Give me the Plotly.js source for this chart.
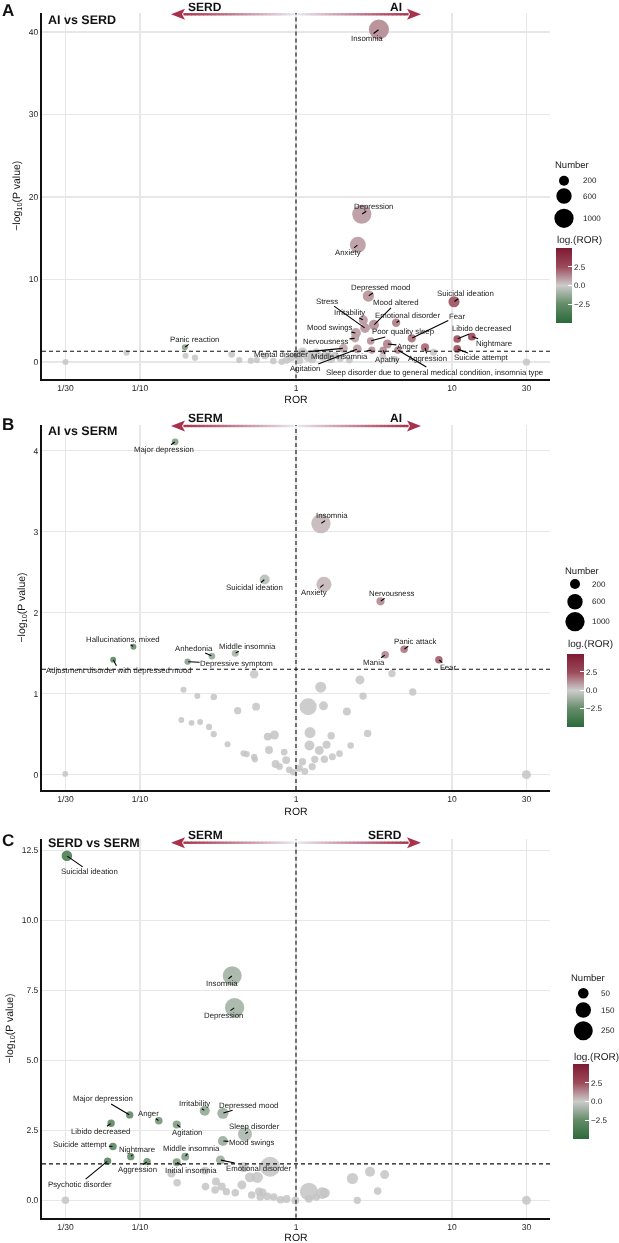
<!DOCTYPE html>
<html>
<head>
<meta charset="utf-8">
<script src="https://cdn.plot.ly/plotly-3.0.1.min.js"></script>
<style>
  html, body { margin: 0; padding: 0; background: #fff; }
  #chart { width: 619px; height: 1243px; will-change: transform; }
  #chart svg text { text-rendering: geometricPrecision; }
</style>
</head>
<body>
<div id="chart"></div>
<script>
// ---------------- data ----------------
// x: reporting odds ratio (ROR), y: -log10(P value), n: number of reports

// A: AI vs SERD — significant terms
const aiSerdLabel = ['Insomnia', 'Depression', 'Anxiety', 'Depressed mood', 'Suicidal ideation', 'Irritability',
  'Stress', 'Mood altered', 'Emotional disorder', 'Mood swings', 'Nervousness', 'Poor quality sleep', 'Fear',
  'Anger', 'Mental disorder', 'Agitation', 'Middle insomnia', 'Apathy',
  'Sleep disorder due to general medical condition, insomnia type', 'Aggression', 'Libido decreased',
  'Nightmare', 'Suicide attempt', 'Panic reaction'];
const aiSerdRor = [3.40, 2.64, 2.49, 2.91, 10.3, 2.70, 2.77, 3.16, 4.38, 2.42, 2.39, 3.01, 5.52,
  3.85, 2.01, 2.47, 3.06, 3.62, 4.49, 6.71, 10.8, 13.4, 10.8, 0.194];
const aiSerdLogP = [40.3, 17.9, 14.2, 8.0, 7.3, 5.1, 4.1, 4.5, 4.76, 3.5, 2.87, 2.55, 2.87,
  2.18, 1.66, 1.58, 1.45, 1.45, 1.45, 1.78, 2.79, 3.07, 1.58, 1.78];
const aiSerdN = [1100, 980, 660, 290, 270, 150, 180, 200, 110, 200, 100, 70, 100,
  140, 140, 140, 60, 60, 60, 100, 80, 80, 80, 15];
// A: non-significant terms
const aiSerdGreyRor = [0.0333, 0.082, 0.196, 0.225, 0.387, 0.433, 0.513, 0.56, 0.633, 0.715, 0.81, 0.87,
  0.93, 1.02, 1.10, 1.20, 1.05, 1.27, 1.35, 1.48, 1.58, 1.68, 1.78, 1.92, 2.2, 3.6, 4.3, 7.6, 30];
const aiSerdGreyLogP = [0.0, 1.13, 0.76, 0.52, 0.93, 0.24, 0.16, 0.24, 0.73, 0.12, 0.04, 0.24,
  0.55, 0.85, 1.15, 0.70, 0.20, 0.40, 1.10, 0.60, 0.95, 0.30, 0.80, 0.45, 0.25, 0.75, 0.35, 1.17, 0.0];
const aiSerdGreyN = [12, 12, 12, 20, 40, 20, 20, 20, 40, 30, 30, 60,
  90, 150, 200, 250, 90, 150, 150, 100, 150, 80, 60, 60, 40, 40, 30, 50, 60];

// B: AI vs SERM — significant terms
const aiSermLabel = ['Major depression', 'Insomnia', 'Suicidal ideation', 'Anxiety', 'Nervousness',
  'Hallucinations, mixed', 'Adjustment disorder with depressed mood', 'Anhedonia', 'Middle insomnia',
  'Depressive symptom', 'Panic attack', 'Mania', 'Fear'];
const aiSermRor = [0.168, 1.445, 0.630, 1.51, 3.48, 0.0908, 0.0673, 0.289, 0.408, 0.202, 4.93, 3.73, 8.24];
const aiSermLogP = [4.11, 3.10, 2.41, 2.35, 2.14, 1.58, 1.42, 1.465, 1.50, 1.395, 1.548, 1.48, 1.42];
const aiSermN = [40, 1000, 200, 570, 100, 8, 8, 40, 50, 20, 70, 70, 70];
// B: non-significant terms
const aiSermGreyRor = [0.0332, 0.539, 0.190, 0.233, 0.297, 0.423, 0.555, 0.184, 0.214, 0.243, 0.277, 0.297,
  0.364, 0.461, 0.483, 0.539, 0.545, 0.659, 0.727, 0.671, 0.740, 0.865, 0.784, 0.906, 0.96, 1.05, 1.10,
  1.14, 1.27, 1.32, 1.197, 1.44, 1.50, 1.23, 1.22, 1.41, 1.57, 1.68, 1.52, 1.71, 1.90, 2.24, 2.12, 2.57,
  2.69, 2.88, 4.12, 5.60, 30, 0.84];
const aiSermGreyLogP = [0.01, 1.24, 1.05, 0.97, 0.96, 0.79, 0.84, 0.675, 0.64, 0.65, 0.59, 0.50,
  0.375, 0.264, 0.255, 0.22, 0.19, 0.47, 0.49, 0.305, 0.132, 0.18, 0.10, 0.06, 0.03, 0.08, 0.16,
  0.04, 0.10, 0.19, 0.84, 1.08, 0.85, 0.52, 0.36, 0.30, 0.37, 0.48, 0.19, 0.22, 0.26, 0.36, 0.78, 1.17,
  0.97, 0.51, 1.25, 1.02, 0.0, 0.28];
const aiSermGreyN = [5, 120, 12, 12, 30, 60, 90, 10, 10, 12, 20, 20,
  12, 20, 20, 25, 20, 90, 140, 90, 90, 90, 40, 40, 30, 60, 60,
  40, 60, 60, 760, 260, 144, 260, 200, 144, 94, 67, 67, 50, 34, 34, 94, 144,
  67, 67, 67, 67, 144, 40];

// C: SERD vs SERM — significant terms
const serdSermLabel = ['Suicidal ideation', 'Insomnia', 'Depression', 'Major depression', 'Anger',
  'Libido decreased', 'Agitation', 'Irritability', 'Depressed mood', 'Sleep disorder', 'Mood swings',
  'Suicide attempt', 'Nightmare', 'Middle insomnia', 'Psychotic disorder', 'Aggression',
  'Initial insomnia', 'Emotional disorder'];
const serdSermRor = [0.0340, 0.390, 0.404, 0.0859, 0.132, 0.0653, 0.172, 0.260, 0.340, 0.471, 0.340,
  0.0671, 0.0873, 0.195, 0.0620, 0.111, 0.172, 0.328];
const serdSermLogP = [12.30, 8.02, 6.88, 3.05, 2.84, 2.75, 2.71, 3.20, 3.11, 2.37, 2.12,
  1.92, 1.56, 1.56, 1.40, 1.38, 1.36, 1.44];
const serdSermN = [50, 250, 260, 4, 6, 4, 12, 40, 60, 120, 40, 6, 3, 10, 3, 3, 10, 25];
// C: non-significant terms
const serdSermGreyRor = [0.0333, 0.682, 0.463, 0.261, 0.159, 0.173, 0.507, 0.565, 0.263, 0.307, 0.334,
  0.303, 0.358, 0.408, 0.45, 0.52, 0.58, 0.61, 0.59, 0.655, 0.72, 0.796, 0.87, 0.99, 1.21, 1.21, 1.35,
  1.47, 1.53, 2.30, 2.47, 2.98, 3.34, 3.70, 30];
const serdSermGreyLogP = [0.0, 1.20, 1.18, 1.06, 0.96, 0.63, 0.82, 0.82, 0.49, 0.67, 0.49,
  0.37, 0.31, 0.27, 0.55, 0.19, 0.31, 0.28, 0.12, 0.14, 0.12, 0.02, 0.05, 0.0, 0.31, 0.05, 0.12,
  0.26, 0.26, 0.78, 0.0, 1.02, 0.33, 0.92, 0.0];
const serdSermGreyN = [5, 280, 40, 10, 12, 5, 40, 60, 6, 10, 12,
  6, 3, 6, 25, 6, 12, 10, 6, 6, 6, 6, 10, 10, 220, 6, 6,
  70, 40, 60, 3, 40, 6, 25, 25];

// axis ticks and legend breaks
const rorTickVals = [1 / 30, 1 / 10, 1, 10, 30];
const rorTickText = ['1/30', '1/10', '1', '10', '30'];
const sizeBreaksAB = [200, 600, 1000];
const sizeBreaksC = [50, 150, 250];
const colorTickVals = [-2.5, 0, 2.5];
const colorTickText = ['\u22122.5', '0.0', '2.5'];
const pThreshold = 0.05;

// ---------------- geometry & styling ----------------
const W = 619, H = 1243;
const px = v => v / W;          // horizontal pixel -> paper
const py = v => 1 - v / H;      // vertical pixel -> paper
const FONT = "Arial, 'Liberation Sans', Helvetica, sans-serif";
const XDOM = [px(42), px(550)];
const XRANGE = [-1.628, 1.628];
const GRID = '#e7e7e7';
const GREY = 'rgb(196,196,196)';
const COLORSCALE = [[0, '#2a6a3a'], [0.25, '#648c68'], [0.5, '#cccccc'], [0.75, '#9c4a5a'], [1, '#7d1a33']];
const ARROW_LIGHT = [233, 233, 243];
const ARROW_DARK = [168, 50, 76];

// bubble area grows linearly with the count (ggplot-like size scale)
const sizeScale = (a, b) => n => 2 * Math.sqrt(a + b * n);
const sizeAB = sizeScale(8, 0.085);
const sizeC = sizeScale(12.5, 0.31);

// label offsets (pixels from the point to the label centre)
const aiSerdOffsets = [[-12, 9], [12, -8], [-10, 8], [12, -8], [11, -8], [-14, -7], [-38, -27], [22, -22],
  [11, -7], [-26, -6], [-29, 3], [33, -9], [45, -22], [20, 2], [-62, 6], [-52, 20], [-32, 6], [4, 9],
  [37, 22], [3, 11], [24, -10], [22, 7], [24, 9], [10, -8]];
const aiSermOffsets = [[-11, 8], [11, -8], [-10, 8], [-10, 8], [11, -8], [-10, -7], [6, 11], [-18, -8],
  [12, -7], [49, 2], [11, -8], [-11, 8], [9, 8]];
const serdSermOffsets = [[23, 16], [-10, 8], [-11, 8], [-27, -16], [-10, -7], [-11, 8], [10, 8], [-10, -7],
  [26, -8], [10, -7], [29, 2], [-32, -2], [6, -7], [6, -8], [-28, 23], [-10, 8], [14, 8], [38, 8]];

const panels = [
  {
    letter: 'A', title: 'AI vs SERD', left: 'SERD', right: 'AI',
    label: aiSerdLabel, ror: aiSerdRor, logp: aiSerdLogP, n: aiSerdN, offsets: aiSerdOffsets,
    gRor: aiSerdGreyRor, gLogp: aiSerdGreyLogP, gN: aiSerdGreyN,
    size: sizeAB, breaks: sizeBreaksAB,
    top: 13, bottom: 378.5, yRange: [-2.0, 42.3], yTicks: [0, 10, 20, 30, 40], yTickText: ['0', '10', '20', '30', '40'],
    arrowY: 14.3, arrowLabelY: 6.5, titleY: 19.5, letterY: 10,
    num: { tx: 553, ty: 165, cx: 564, cy: [180.7, 196, 218.3], lx: 581 },
    cbar: { x0: 556, x1: 572, y0: 248, y1: 323, ty: 240 }
  },
  {
    letter: 'B', title: 'AI vs SERM', left: 'SERM', right: 'AI',
    label: aiSermLabel, ror: aiSermRor, logp: aiSermLogP, n: aiSermN, offsets: aiSermOffsets,
    gRor: aiSermGreyRor, gLogp: aiSermGreyLogP, gN: aiSermGreyN,
    size: sizeAB, breaks: sizeBreaksAB,
    top: 425, bottom: 790, yRange: [-0.189, 4.317], yTicks: [0, 1, 2, 3, 4], yTickText: ['0', '1', '2', '3', '4'],
    arrowY: 426, arrowLabelY: 418, titleY: 431, letterY: 425,
    num: { tx: 562.7, ty: 570, cx: 575, cy: [584, 601.7, 621.7], lx: 590 },
    cbar: { x0: 566.7, x1: 583.3, y0: 653.3, y1: 726.7, ty: 643.3 }
  },
  {
    letter: 'C', title: 'SERD vs SERM', left: 'SERM', right: 'SERD',
    label: serdSermLabel, ror: serdSermRor, logp: serdSermLogP, n: serdSermN, offsets: serdSermOffsets,
    gRor: serdSermGreyRor, gLogp: serdSermGreyLogP, gN: serdSermGreyN,
    size: sizeC, breaks: sizeBreaksC,
    top: 839.3, bottom: 1217.7, yRange: [-0.62, 12.89], yTicks: [0, 2.5, 5, 7.5, 10, 12.5],
    yTickText: ['0.0', '2.5', '5.0', '7.5', '10.0', '12.5'],
    arrowY: 842.7, arrowLabelY: 835, titleY: 843, letterY: 840,
    num: { tx: 569.3, ty: 977.3, cx: 583.3, cy: [993.3, 1010, 1030.7], lx: 599.3 },
    cbar: { x0: 573.3, x1: 589, y0: 1064, y1: 1139.3, ty: 1056 }
  }
];

const mix = (a, b, t) => `rgb(${a.map((v, i) => Math.round(v + (b[i] - v) * t)).join(',')})`;

// two-way gradient arrow above each panel
function arrowShapes(cy) {
  const out = [];
  const cx = 296, inner = 2, outer = 112, headLen = 13, headHalf = 5.5, steps = 28;
  [-1, 1].forEach(dir => {
    for (let i = 0; i < steps; i++) {
      const t0 = i / steps, t1 = (i + 1) / steps;
      out.push({
        type: 'line', xref: 'paper', yref: 'paper', layer: 'above',
        x0: px(cx + dir * (inner + (outer - inner) * t0)),
        x1: px(cx + dir * (inner + (outer - inner) * t1 + 0.6)),
        y0: py(cy), y1: py(cy),
        line: { color: mix(ARROW_LIGHT, ARROW_DARK, Math.pow((t0 + t1) / 2, 0.9)), width: 2.4 }
      });
    }
    const base = cx + dir * outer, tip = cx + dir * (outer + headLen);
    out.push({
      type: 'path', xref: 'paper', yref: 'paper', layer: 'above',
      path: `M ${px(tip)} ${py(cy)} L ${px(base - dir * 1)} ${py(cy - headHalf)} L ${px(base + dir * 2)} ${py(cy)} L ${px(base - dir * 1)} ${py(cy + headHalf)} Z`,
      fillcolor: mix(ARROW_DARK, ARROW_DARK, 0), line: { width: 0 }
    });
  });
  return out;
}

const traces = [];
const layout = {
  width: W, height: H,
  margin: { l: 0, r: 0, t: 0, b: 0 },
  paper_bgcolor: '#ffffff', plot_bgcolor: '#ffffff',
  showlegend: false,
  font: { family: FONT, color: '#1a1a1a' },
  shapes: [], annotations: []
};

const threshold = -Math.log10(pThreshold);

panels.forEach((p, i) => {
  const k = i === 0 ? '' : String(i + 1);
  const xr = 'x' + k, yr = 'y' + k;

  layout['xaxis' + k] = {
    type: 'log', domain: XDOM, range: XRANGE, anchor: yr,
    tickvals: rorTickVals, ticktext: rorTickText,
    showgrid: true, gridcolor: GRID, gridwidth: 1.2, zeroline: false,
    showline: true, linecolor: '#111', linewidth: 2, ticks: '',
    tickfont: { size: 8.5, color: '#222' },
    title: { text: 'ROR', font: { size: 10.5, color: '#111' }, standoff: 4 },
    automargin: false, fixedrange: true
  };
  layout['yaxis' + k] = {
    domain: [py(p.bottom), py(p.top)], range: p.yRange, anchor: xr,
    tickvals: p.yTicks, ticktext: p.yTickText,
    showgrid: true, gridcolor: GRID, gridwidth: 1.2, zeroline: false,
    showline: true, linecolor: '#111', linewidth: 2, ticks: '',
    tickfont: { size: 8.5, color: '#222' },
    title: { text: '\u2212log<sub>10</sub>(P value)', font: { size: 10.5, color: '#111' }, standoff: 6 },
    automargin: false, fixedrange: true
  };

  // non-significant terms
  traces.push({
    type: 'scatter', mode: 'markers', xaxis: xr, yaxis: yr,
    x: p.gRor, y: p.gLogp, hoverinfo: 'skip',
    marker: { size: p.gN.map(p.size), color: GREY, opacity: 0.85, line: { width: 0 } }
  });

  // significant terms coloured by natural log of ROR
  const cb = p.cbar;
  traces.push({
    type: 'scatter', mode: 'markers', xaxis: xr, yaxis: yr,
    x: p.ror, y: p.logp, text: p.label, hoverinfo: 'text',
    marker: {
      size: p.n.map(p.size), color: p.ror.map(Math.log), opacity: 0.92,
      colorscale: COLORSCALE, cmin: -5, cmax: 5, line: { width: 0 },
      showscale: true,
      colorbar: {
        x: px(cb.x0), xanchor: 'left', xpad: 0, ypad: 0,
        y: py((cb.y0 + cb.y1) / 2), yanchor: 'middle',
        len: cb.y1 - cb.y0, lenmode: 'pixels',
        thickness: cb.x1 - cb.x0, thicknessmode: 'pixels',
        outlinewidth: 0, tickvals: colorTickVals, ticktext: colorTickText,
        ticks: 'inside', ticklen: 4, tickwidth: 1, tickcolor: '#ffffff',
        tickfont: { size: 8, color: '#222' }
      }
    }
  });

  // reference lines: ROR = 1 and P = 0.05
  traces.push({
    type: 'scatter', mode: 'lines', xaxis: xr, yaxis: yr, hoverinfo: 'skip',
    x: [1, 1], y: p.yRange, line: { color: '#111', width: 1.1, dash: '4px,3px' }
  });
  traces.push({
    type: 'scatter', mode: 'lines', xaxis: xr, yaxis: yr, hoverinfo: 'skip',
    x: XRANGE.map(v => Math.pow(10, v)), y: [threshold, threshold],
    line: { color: '#111', width: 1.1, dash: '4px,3px' }
  });

  // term labels with leader lines
  p.label.forEach((lab, j) => {
    layout.annotations.push({
      xref: xr, yref: yr, x: Math.log10(p.ror[j]), y: p.logp[j],
      text: lab, showarrow: true, arrowhead: 0, arrowwidth: 1.1, arrowcolor: '#000',
      ax: p.offsets[j][0], ay: p.offsets[j][1], standoff: 0.5,
      font: { size: 7.8, color: '#1a1a1a' }, borderpad: 0
    });
  });

  // panel letter and comparison title
  layout.annotations.push({
    xref: 'paper', yref: 'paper', x: px(8), y: py(p.letterY), xanchor: 'center', yanchor: 'middle',
    text: '<b>' + p.letter + '</b>', showarrow: false, font: { size: 17, color: '#111' }
  });
  layout.annotations.push({
    xref: 'paper', yref: 'paper', x: px(46), y: py(p.titleY), xanchor: 'left', yanchor: 'middle',
    text: '<b>' + p.title + '</b>', showarrow: false, font: { size: 12.5, color: '#111' }
  });

  // direction arrows
  layout.shapes.push(...arrowShapes(p.arrowY));
  layout.annotations.push({
    xref: 'paper', yref: 'paper', x: px(186), y: py(p.arrowLabelY), xanchor: 'left', yanchor: 'middle',
    text: '<b>' + p.left + '</b>', showarrow: false, font: { size: 12, color: '#111' }
  });
  layout.annotations.push({
    xref: 'paper', yref: 'paper', x: px(404), y: py(p.arrowLabelY), xanchor: 'right', yanchor: 'middle',
    text: '<b>' + p.right + '</b>', showarrow: false, font: { size: 12, color: '#111' }
  });

  // size legend
  const nm = p.num;
  layout.annotations.push({
    xref: 'paper', yref: 'paper', x: px(nm.tx), y: py(nm.ty), xanchor: 'left', yanchor: 'middle',
    text: 'Number', showarrow: false, font: { size: 9.5, color: '#1a1a1a' }
  });
  p.breaks.forEach((b, j) => {
    const r = p.size(b) / 2;
    layout.shapes.push({
      type: 'circle', xref: 'paper', yref: 'paper', xsizemode: 'pixel', ysizemode: 'pixel',
      xanchor: px(nm.cx), yanchor: py(nm.cy[j]), x0: -r, x1: r, y0: -r, y1: r,
      fillcolor: '#000', line: { width: 0 }
    });
    layout.annotations.push({
      xref: 'paper', yref: 'paper', x: px(nm.lx), y: py(nm.cy[j]), xanchor: 'left', yanchor: 'middle',
      text: String(b), showarrow: false, font: { size: 8, color: '#1a1a1a' }
    });
  });

  // colour legend title
  layout.annotations.push({
    xref: 'paper', yref: 'paper', x: px(cb.x0 - 1), y: py(cb.ty), xanchor: 'left', yanchor: 'middle',
    text: 'log.(ROR)', showarrow: false, font: { size: 10, color: '#1a1a1a' }
  });
});

Plotly.newPlot('chart', traces, layout, { displayModeBar: false, staticPlot: true });
</script>
</body>
</html>
